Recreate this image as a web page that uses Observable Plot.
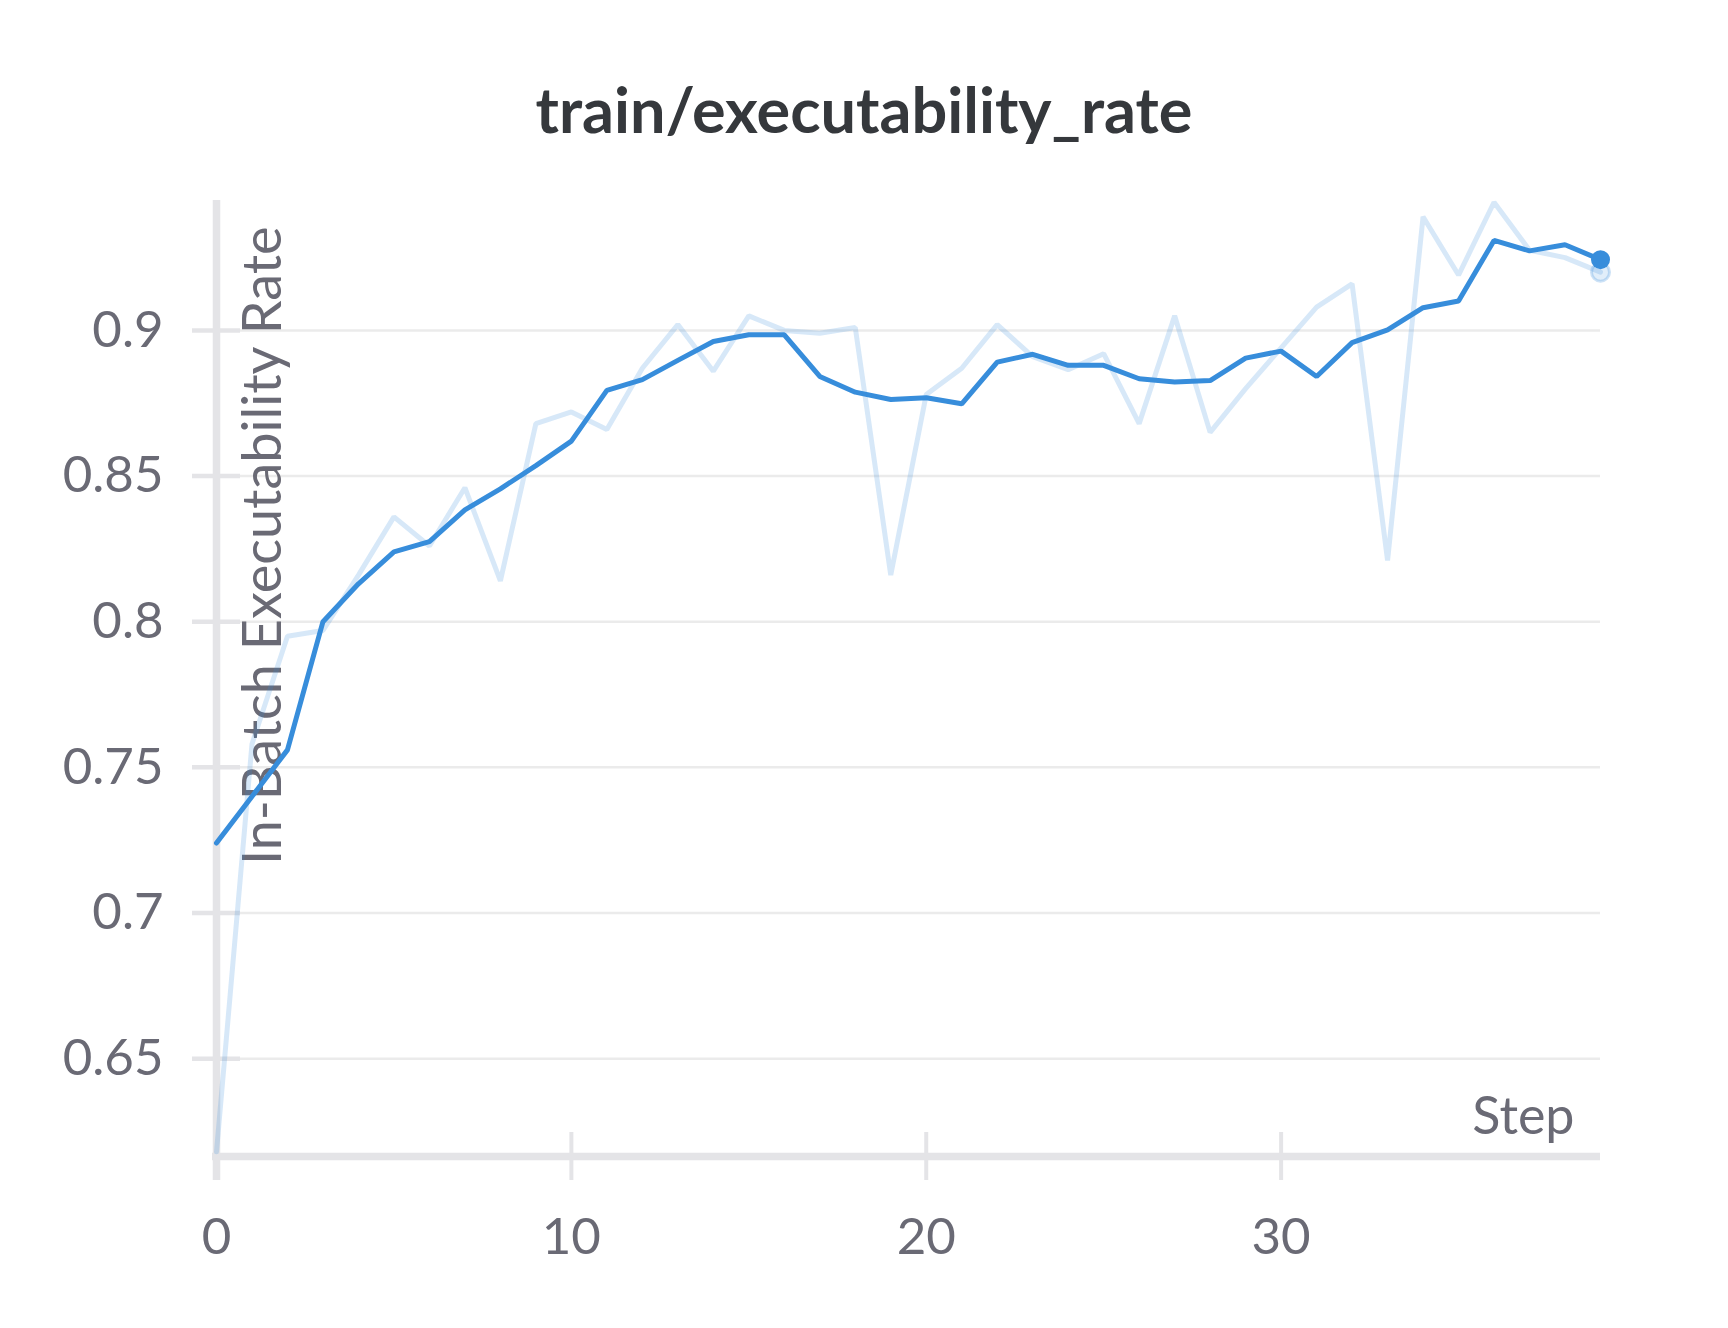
<!DOCTYPE html>
<html>
<head>
<meta charset="utf-8">
<script src="https://cdn.jsdelivr.net/npm/d3@7"></script>
<script src="https://cdn.jsdelivr.net/npm/@observablehq/plot@0.6"></script>
<style>
  html, body { margin: 0; padding: 0; background: #fff; }
  #title {
    height: 180px; box-sizing: border-box; padding-top: 77px;
    text-align: center; font: 700 63px/1 Lato, "Noto Sans", sans-serif; color: #35383c;
  }
  #chart svg { display: block; }
</style>
</head>
<body>
<div id="title">train/executability_rate</div>
<div id="chart"></div>
<script>
const steps = [0,1,2,3,4,5,6,7,8,9,10,11,12,13,14,15,16,17,18,19,20,21,22,23,24,25,26,27,28,29,30,31,32,33,34,35,36,37,38,39];
const rawRate = [0.618,0.758,0.795,0.797,0.816,0.836,0.826,0.846,0.814,0.868,0.872,0.866,0.887,0.902,0.886,0.905,0.900,0.899,0.901,0.816,0.878,0.887,0.902,0.891,0.8865,0.892,0.868,0.905,0.865,0.880,0.894,0.908,0.916,0.821,0.939,0.919,0.944,0.9275,0.925,0.920];
const smoothedRate = [0.724,0.740,0.756,0.800,0.813,0.824,0.8275,0.8384,0.8456,0.8536,0.862,0.8794,0.8831,0.8897,0.8962,0.8985,0.8985,0.8842,0.8788,0.8763,0.8769,0.8748,0.8891,0.8918,0.888,0.888,0.8834,0.8823,0.8828,0.8905,0.8929,0.8842,0.8958,0.9002,0.9078,0.9101,0.9309,0.9273,0.9294,0.9243];
const yTicks = [0.65, 0.7, 0.75, 0.8, 0.85, 0.9];
const xTicks = [0, 10, 20, 30];
const yDomain = [0.6164, 0.9446];
const xDomain = [0, 39];
const yLabel = "In-Batch Executability Rate";
const xLabel = "Step";

const blue = "#378ddb";
const axisGray = "#e4e4e7";
const textGray = "#6a6a75";

const rows = steps.map((s, i) => ({step: s, raw: rawRate[i], smooth: smoothedRate[i]}));
const last = [rows[rows.length - 1]];

const chart = Plot.plot({
  width: 1728,
  height: 1148,
  marginTop: 20,
  marginBottom: 172,
  marginLeft: 216,
  marginRight: 128,
  style: {fontFamily: "Lato, 'Noto Sans', sans-serif", fontSize: "50px", color: textGray, background: "#fff"},
  x: {domain: xDomain},
  y: {domain: yDomain},
  marks: [
    Plot.gridY(yTicks, {stroke: "#ebebeb", strokeOpacity: 1, strokeWidth: 2.5}),
    Plot.axisY(yTicks, {tickSize: 48, dx: 24, fill: "none", stroke: axisGray, strokeWidth: 4.5, label: null}),
    Plot.axisY(yTicks, {tickSize: 0, tickPadding: 53, tickFormat: d => String(d), fill: textGray, fontSize: 51, label: null}),
    Plot.axisX(xTicks, {tickSize: 48, dy: -24, fill: "none", stroke: axisGray, strokeWidth: 4, label: null}),
    Plot.axisX(xTicks, {tickSize: 0, tickPadding: 61, fill: textGray, fontSize: 51, label: null}),
    Plot.ruleX([xDomain[0]], {stroke: axisGray, strokeWidth: 7.5, insetBottom: -24}),
    Plot.ruleY([yDomain[0]], {stroke: axisGray, strokeWidth: 7.7, insetLeft: -4}),
    Plot.text([xLabel], {frameAnchor: "bottom-right", textAnchor: "end", lineAnchor: "bottom", dx: -26, dy: -23, fontSize: 52, fill: textGray}),
    Plot.text([yLabel], {frameAnchor: "top-left", rotate: -90, textAnchor: "end", lineAnchor: "top", dx: 26, dy: 26, fontSize: 54, fill: textGray}),
    Plot.line(rows, {x: "step", y: "raw", stroke: blue, strokeOpacity: 0.2, strokeWidth: 5, strokeLinejoin: "miter"}),
    Plot.line(rows, {x: "step", y: "smooth", stroke: blue, strokeWidth: 5, strokeLinejoin: "miter"}),
    Plot.dot(last, {x: "step", y: "raw", r: 9, fill: blue, fillOpacity: 0.15, stroke: blue, strokeOpacity: 0.25, strokeWidth: 3}),
    Plot.dot(last, {x: "step", y: "smooth", r: 9.5, fill: blue})
  ]
});
document.getElementById("chart").appendChild(chart);
</script>
</body>
</html>
